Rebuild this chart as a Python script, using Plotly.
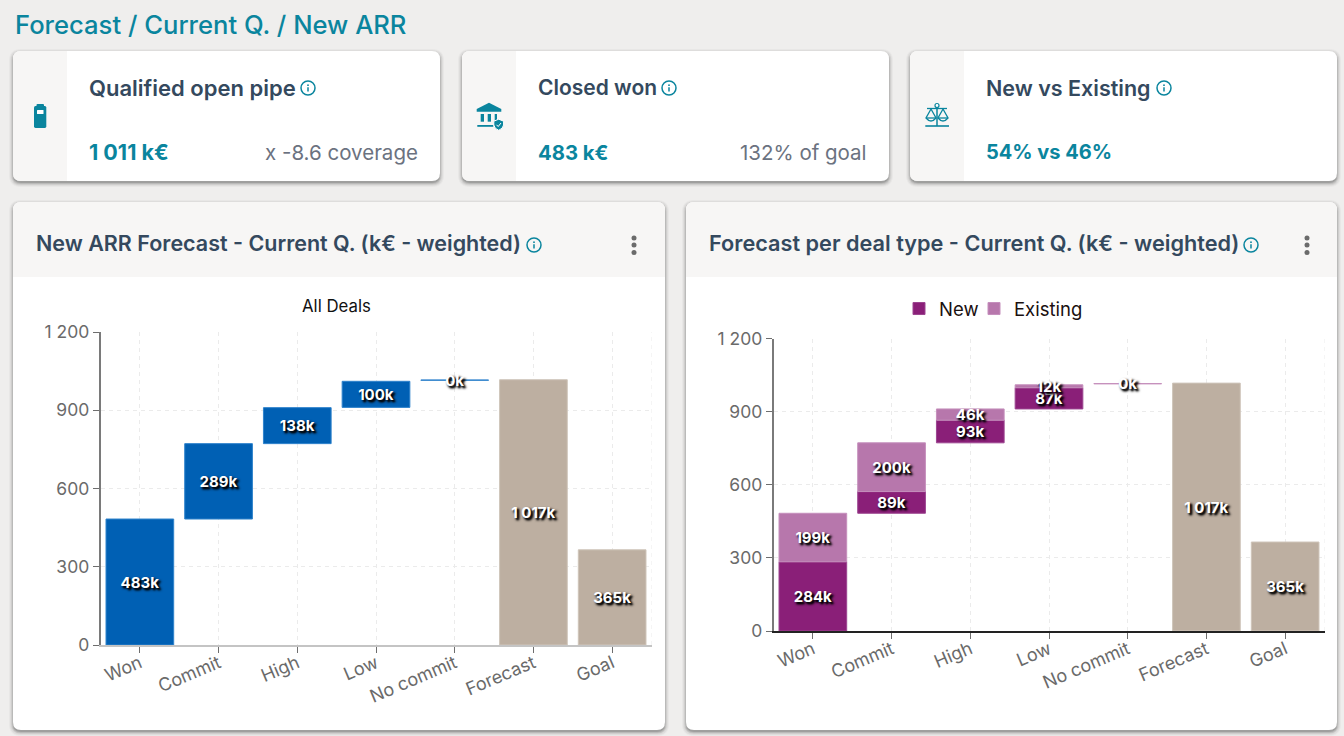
import plotly.graph_objects as go

# ---------- data ----------
categories = ["Won", "Commit", "High", "Low", "No commit", "Forecast", "Goal"]
y_ticks = [0, 300, 600, 900, 1200]
y_tick_labels = ["0", "300", "600", "900", "1 200"]

left_step_base = [0, 483, 772, 911, 1015, None, None]
left_step_value = [483, 289, 138, 100, 1, None, None]
left_step_text = ["483k", "289k", "138k", "100k", "0k", "", ""]

total_value = [None, None, None, None, None, 1017, 365]
total_text = ["", "", "", "", "", "1 017k", "365k"]

new_base = [0, 483, 772, 911, None, None, None]
new_value = [284, 89, 93, 87, None, None, None]
new_text = ["284k", "89k", "93k", "87k", "", "", ""]

existing_base = [284, 572, 865, 998, 1014, None, None]
existing_value = [199, 200, 46, 12, 1, None, None]
existing_text = ["199k", "200k", "46k", "12k", "0k", "", ""]

# ---------- style ----------
W, H = 1344, 736
FONT = "Inter"
BG = "#EFEEED"
PANEL = "#F7F6F5"
TEAL = "#0A859E"
DARK = "#34495E"
GREY = "#6B7280"
AXIS_TXT = "#6A6A6A"
GRID = "#EBEBEB"
BLUE, BLUE_EDGE = "#0060B4", "#2F83CC"
TAUPE, TAUPE_EDGE = "#BDAFA1", "#CFC5BA"
PURPLE, PURPLE_EDGE = "#8A1F78", "#9C4590"
LILAC, LILAC_EDGE = "#B777AC", "#C58FBC"
LABEL_SHADOW = "2px 2px 3px #000000, 2px 2px 2px #000000"


def X(px):
    return px / W


def Y(py):
    return 1 - py / H


shapes = []
annotations = []


def P(px, py):
    return f"{X(px):.5f},{Y(py):.5f}"


def rr(x0, y0, x1, y1, r=8, corners=(1, 1, 1, 1)):
    tl, tr, br, bl = [r * c for c in corners]
    return (
        f"M{P(x0 + tl, y0)} L{P(x1 - tr, y0)} Q{P(x1, y0)} {P(x1, y0 + tr)} "
        f"L{P(x1, y1 - br)} Q{P(x1, y1)} {P(x1 - br, y1)} "
        f"L{P(x0 + bl, y1)} Q{P(x0, y1)} {P(x0, y1 - bl)} "
        f"L{P(x0, y0 + tl)} Q{P(x0, y0)} {P(x0 + tl, y0)} Z"
    )


def path(d, fill=None, line=None, lw=0):
    shapes.append(dict(type="path", path=d, xref="paper", yref="paper", layer="below",
                       fillcolor=fill if fill else "rgba(0,0,0,0)",
                       line=dict(color=line if line else "rgba(0,0,0,0)", width=lw)))


def circle(cx, cy, r, fill=None, line=None, lw=0):
    shapes.append(dict(type="circle", xref="paper", yref="paper", layer="below",
                       x0=X(cx - r), x1=X(cx + r), y0=Y(cy + r), y1=Y(cy - r),
                       fillcolor=fill if fill else "rgba(0,0,0,0)",
                       line=dict(color=line if line else "rgba(0,0,0,0)", width=lw)))


def card(x0, y0, x1, y1):
    for spread, dy, a in [(4, 2, .03), (3, 2, .05), (2, 2, .08), (1, 2, .12), (0, 2, .18)]:
        path(rr(x0 - spread, y0 - spread + dy, x1 + spread, y1 + spread + dy, 8 + spread),
             fill=f"rgba(40,40,40,{a})")
    path(rr(x0, y0, x1, y1, 8), fill="#FFFFFF")


def text(px, py, s, size, color, anchor="left", weight=400):
    annotations.append(dict(x=X(px), y=Y(py), xref="paper", yref="paper", text=s, showarrow=False,
                            xanchor=anchor, yanchor="middle", borderpad=0,
                            font=dict(family=FONT, size=size, color=color, weight=weight)))


def info(cx, cy):
    circle(cx, cy, 7, line=TEAL, lw=1.5)
    circle(cx, cy - 2.8, 0.9, fill=TEAL)
    path(f"M{P(cx, cy - 0.8)} L{P(cx, cy + 3.4)}", line=TEAL, lw=1.5)


def dots(cx):
    for cy in (238, 245, 252.5):
        circle(cx, cy, 2.5, fill="#6B6B6B")


# ---------- cards ----------
for x0 in (13, 462, 910):
    card(x0, 51, x0 + 427, 181)
    path(rr(x0, 51, x0 + 54, 181, 8, (1, 0, 0, 1)), fill=PANEL)

for x0, x1 in ((13, 665), (686, 1337)):
    card(x0, 202, x1, 730)
    path(rr(x0, 202, x1, 277, 8, (1, 1, 0, 0)), fill=PANEL)

text(13.5, 24, "Forecast / Current Q. / New ARR", 25.6, TEAL, weight=500)

text(88, 88, "Qualified open pipe", 22, DARK, weight=600)
text(537, 88, "Closed won", 21, DARK, weight=600)
text(985, 88, "New vs Existing", 21.5, DARK, weight=600)
text(88, 152, "1 011 k€", 21.5, TEAL, weight=700)
text(537, 152, "483 k€", 20.3, TEAL, weight=700)
text(985, 152, "54% vs 46%", 20, TEAL, weight=700)
text(419.5, 152, "x -8.6 coverage", 20.5, GREY, anchor="right")
text(868.5, 152, "132% of goal", 20.5, GREY, anchor="right")
text(35, 243, "New ARR Forecast - Current Q. (k€ - weighted)", 21.5, DARK, weight=600)
text(708, 243, "Forecast per deal type - Current Q. (k€ - weighted)", 21.7, DARK, weight=600)
text(336, 306, "All Deals", 16.8, "#111111", anchor="center")

for c in ((308, 88), (669, 88), (1164, 88), (534, 245), (1251, 245)):
    info(*c)
dots(634)
dots(1307)

# battery icon
path(rr(34, 106, 46.3, 128, 1.5), fill=TEAL)
path(rr(36.5, 104, 44, 107, 1), fill=TEAL)
path(rr(37, 110, 43.5, 114, 0.5), fill="#FFFFFF")

# bank icon
path(f"M{P(489, 102.7)} L{P(501.3, 109)} L{P(501.3, 111.7)} L{P(476.7, 111.7)} L{P(476.7, 109)} Z", fill=TEAL)
for cx0, cx1 in ((480.7, 484), (487.7, 491), (494.7, 497)):
    path(f"M{P(cx0, 114)} L{P(cx1, 114)} L{P(cx1, 121.7)} L{P(cx0, 121.7)} Z", fill=TEAL)
path(f"M{P(477.3, 125)} L{P(493.3, 125)} L{P(493.3, 126.8)} L{P(477.3, 126.8)} Z", fill=TEAL)
path(f"M{P(498.7, 119.2)} L{P(503.6, 121.2)} L{P(503.6, 125)} Q{P(503, 128.8)} {P(498.7, 130.3)} "
     f"Q{P(494.4, 128.8)} {P(493.8, 125)} L{P(493.8, 121.2)} Z", fill=TEAL, line="#FFFFFF", lw=1)
path(f"M{P(496.5, 124.8)} L{P(498.2, 126.5)} L{P(501, 123)}", line="#FFFFFF", lw=1)

# scales icon
path(f"M{P(925.3, 126)} L{P(949, 126)}", line=TEAL, lw=1.6)
path(f"M{P(937, 107)} L{P(937, 126)}", line=TEAL, lw=1.5)
path(f"M{P(927, 108.5)} L{P(947, 108.5)}", line=TEAL, lw=1.3)
circle(937, 105.5, 2, fill="#FFFFFF", line=TEAL, lw=1.2)
for cx in (931, 943):
    path(f"M{P(cx, 109)} L{P(cx - 5, 118)} Q{P(cx, 124)} {P(cx + 5, 118)} Z", line=TEAL, lw=1.3)
    path(f"M{P(cx - 5, 118)} L{P(cx + 5, 118)}", line=TEAL, lw=1.3)

# grid closing line at the right-hand edge of each plot
for xr, yr in (("x", "y"), ("x2", "y2")):
    shapes.append(dict(type="line", xref=xr, yref=f"{yr} domain", x0=6.5, x1=6.5, y0=0, y1=1,
                       layer="below", line=dict(color=GRID, width=1, dash="4px,4px")))


# ---------- traces ----------
def bar(xa, ya, base, value, labels, color, edge, name, legend=None):
    return go.Bar(x=categories, y=value, base=base, text=labels, name=name, xaxis=xa, yaxis=ya,
                  showlegend=legend is not None, legend=legend,
                  marker=dict(color=color, line=dict(color=edge, width=1)),
                  textposition="inside", insidetextanchor="middle", textangle=0,
                  constraintext="none",
                  textfont=dict(family=FONT, size=15, color="#FFFFFF", weight=700, shadow=LABEL_SHADOW),
                  hoverinfo="x+y+name")


fig = go.Figure()
fig.add_trace(bar("x", "y", left_step_base, left_step_value, left_step_text, BLUE, BLUE_EDGE, "All Deals"))
fig.add_trace(bar("x", "y", None, total_value, total_text, TAUPE, TAUPE_EDGE, "Total"))
fig.add_trace(bar("x2", "y2", new_base, new_value, new_text, PURPLE, PURPLE_EDGE, "New", "legend"))
fig.add_trace(bar("x2", "y2", existing_base, existing_value, existing_text, LILAC, LILAC_EDGE, "Existing", "legend2"))
fig.add_trace(bar("x2", "y2", None, total_value, total_text, TAUPE, TAUPE_EDGE, "Total"))


def xaxis(domain, anchor, line):
    return dict(domain=domain, anchor=anchor, type="category", categoryorder="array", categoryarray=categories,
                range=[-0.5, 6.5], showgrid=True, gridcolor=GRID, griddash="4px,4px", gridwidth=1,
                showline=True, linecolor=line, linewidth=2, ticks="outside", ticklen=6, tickcolor="#6E6E6E",
                tickwidth=1, tickangle=-23, ticklabelstandoff=-7, zeroline=False, fixedrange=True,
                tickfont=dict(family=FONT, size=18, color=AXIS_TXT))


def yaxis(domain, anchor):
    return dict(domain=domain, anchor=anchor, range=[0, 1200], tickvals=y_ticks, ticktext=y_tick_labels,
                showgrid=True, gridcolor=GRID, griddash="4px,4px", gridwidth=1, showline=True,
                linecolor="#7A7A7A", linewidth=1.5, ticks="outside", ticklen=6, tickcolor="#6E6E6E", tickwidth=1,
                zeroline=False, fixedrange=True, tickfont=dict(family=FONT, size=17.5, color=AXIS_TXT))


def legend_at(px):
    return dict(orientation="h", x=X(px), y=Y(290), xanchor="left", yanchor="top",
                bgcolor="rgba(0,0,0,0)", font=dict(family=FONT, size=18.5, color="#1A1010"),
                itemclick=False, itemdoubleclick=False)


fig.update_layout(
    width=W, height=H, autosize=False,
    margin=dict(l=0, r=0, t=0, b=0, pad=0, autoexpand=False),
    paper_bgcolor=BG, plot_bgcolor="rgba(0,0,0,0)",
    barmode="overlay", bargap=0.14,
    font=dict(family=FONT),
    shapes=shapes, annotations=annotations,
    xaxis=xaxis([X(100.5), X(651.5)], "y", "#C4C4C4"),
    yaxis=yaxis([Y(645), Y(332)], "x"),
    xaxis2=xaxis([X(773.5), X(1324.5)], "y2", "#222222"),
    yaxis2=yaxis([Y(631), Y(338.5)], "x2"),
    legend=legend_at(899),
    legend2=legend_at(974),
)

fig.write_html("out.html", config=dict(displayModeBar=False),
               post_script="document.body.style.margin='0';document.body.style.overflow='hidden';")
